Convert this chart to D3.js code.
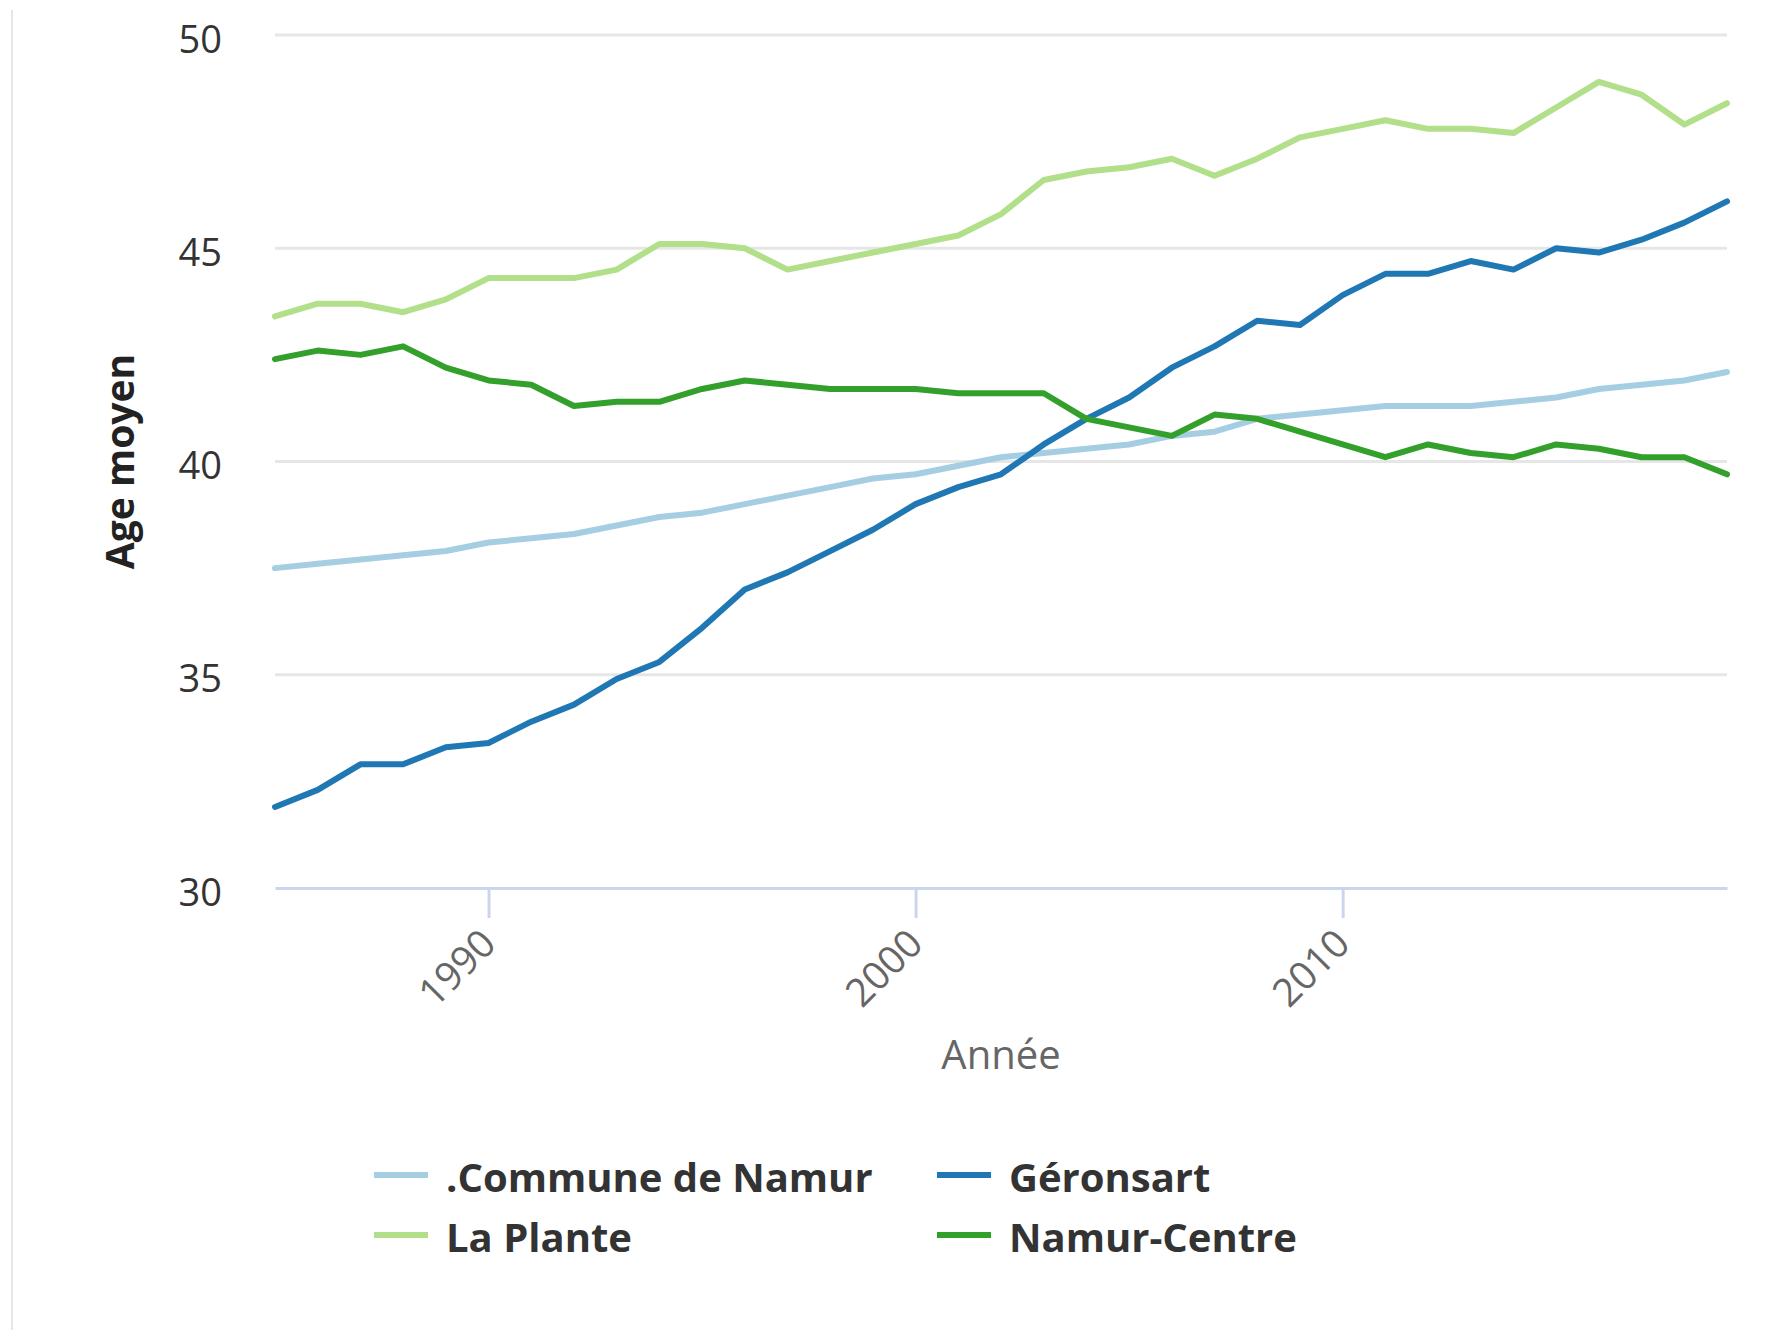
<!DOCTYPE html>
<html>
<head>
<meta charset="utf-8">
<script src="https://cdn.jsdelivr.net/npm/d3@7"></script>
<style>
  body { margin: 0; background: #fff; }
  svg { display: block; font-family: "Open Sans", sans-serif; }
</style>
</head>
<body>
<div id="chart"></div>
<script>
var years = d3.range(1985, 2020);

var commune = [37.5, 37.6, 37.7, 37.8, 37.9, 38.1, 38.2, 38.3, 38.5, 38.7, 38.8, 39.0, 39.2, 39.4, 39.6,
    39.7, 39.9, 40.1, 40.2, 40.3, 40.4, 40.6, 40.7, 41.0, 41.1, 41.2, 41.3, 41.3, 41.3, 41.4, 41.5, 41.7, 41.8, 41.9, 42.1];
var geronsart = [31.9, 32.3, 32.9, 32.9, 33.3, 33.4, 33.9, 34.3, 34.9, 35.3, 36.1, 37.0, 37.4, 37.9, 38.4,
    39.0, 39.4, 39.7, 40.4, 41.0, 41.5, 42.2, 42.7, 43.3, 43.2, 43.9, 44.4, 44.4, 44.7, 44.5, 45.0, 44.9, 45.2, 45.6, 46.1];
var laPlante = [43.4, 43.7, 43.7, 43.5, 43.8, 44.3, 44.3, 44.3, 44.5, 45.1, 45.1, 45.0, 44.5, 44.7, 44.9,
    45.1, 45.3, 45.8, 46.6, 46.8, 46.9, 47.1, 46.7, 47.1, 47.6, 47.8, 48.0, 47.8, 47.8, 47.7, 48.3, 48.9, 48.6, 47.9, 48.4];
var namurCentre = [42.4, 42.6, 42.5, 42.7, 42.2, 41.9, 41.8, 41.3, 41.4, 41.4, 41.7, 41.9, 41.8, 41.7, 41.7,
    41.7, 41.6, 41.6, 41.6, 41.0, 40.8, 40.6, 41.1, 41.0, 40.7, 40.4, 40.1, 40.4, 40.2, 40.1, 40.4, 40.3, 40.1, 40.1, 39.7];

var seriesNames = [".Commune de Namur", "Géronsart", "La Plante", "Namur-Centre"];
var seriesColors = ["#a6cee3", "#1f78b4", "#b2df8a", "#33a02c"];
var yTicks = [30, 35, 40, 45, 50];
var xTicks = [1990, 2000, 2010];

var series = [commune, geronsart, laPlante, namurCentre].map(function(vals, i) {
    return { name: seriesNames[i], color: seriesColors[i], values: vals };
});

var W = 1780, H = 1333;
var mLeft = 275, mRight = 1727, mTop = 35, mBottom = 888;

var svg = d3.select("#chart").append("svg")
    .attr("width", W)
    .attr("height", H);

// cadre gauche
svg.append("line")
    .attr("x1", 12).attr("x2", 12)
    .attr("y1", 10).attr("y2", 1330)
    .attr("stroke", "#e6e6e6")
    .attr("stroke-width", 2);

var x = d3.scaleLinear().domain([1985, 2019]).range([mLeft, mRight]);
var y = d3.scaleLinear().domain([30, 50]).range([mBottom, mTop]);

// grille
svg.append("g")
    .selectAll("line")
    .data(yTicks.slice(1))
    .enter().append("line")
    .attr("x1", mLeft).attr("x2", mRight)
    .attr("y1", function(d) { return y(d); })
    .attr("y2", function(d) { return y(d); })
    .attr("stroke", "#e6e6e6")
    .attr("stroke-width", 3);

// axe Y (labels seulement)
var yAxis = svg.append("g")
    .attr("transform", "translate(" + mLeft + ",0)")
    .call(d3.axisLeft(y).tickValues(yTicks).tickSize(0).tickPadding(53));
yAxis.select(".domain").remove();
yAxis.selectAll("text")
    .attr("font-size", 38)
    .attr("font-family", "Open Sans")
    .attr("fill", "#333")
    .attr("dy", "0.45em");

// axe X
var xAxis = svg.append("g")
    .attr("transform", "translate(0," + mBottom + ")")
    .call(d3.axisBottom(x).tickValues(xTicks).tickSize(30).tickSizeOuter(0).tickFormat(d3.format("d")));
xAxis.select(".domain")
    .attr("stroke", "#ccd6eb")
    .attr("stroke-width", 3);
xAxis.selectAll(".tick line")
    .attr("stroke", "#ccd6eb")
    .attr("stroke-width", 3);
xAxis.selectAll(".tick text")
    .attr("font-size", 39)
    .attr("font-family", "Open Sans")
    .attr("fill", "#666")
    .attr("text-anchor", "end")
    .attr("x", 0).attr("y", 0).attr("dy", 0)
    .attr("transform", "translate(9,58) rotate(-45)");

// titres des axes
svg.append("text")
    .attr("transform", "translate(134," + ((mTop + mBottom) / 2) + ") rotate(-90)")
    .attr("text-anchor", "middle")
    .attr("font-size", 39)
    .attr("font-weight", "bold")
    .attr("fill", "#222")
    .text("Age moyen");

svg.append("text")
    .attr("x", (mLeft + mRight) / 2)
    .attr("y", 1069)
    .attr("text-anchor", "middle")
    .attr("font-size", 40)
    .attr("fill", "#666")
    .text("Année");

// courbes
var line = d3.line()
    .x(function(d, i) { return x(years[i]); })
    .y(function(d) { return y(d); });

svg.append("g")
    .selectAll("path")
    .data(series)
    .enter().append("path")
    .attr("d", function(s) { return line(s.values); })
    .attr("fill", "none")
    .attr("stroke", function(s) { return s.color; })
    .attr("stroke-width", 6)
    .attr("stroke-linejoin", "round")
    .attr("stroke-linecap", "round");

// légende
var legend = svg.append("g")
    .selectAll("g")
    .data(series)
    .enter().append("g")
    .attr("transform", function(s, i) {
        return "translate(" + (i % 2 == 0 ? 374 : 937) + "," + (1175 + Math.floor(i / 2) * 60) + ")";
    });
legend.append("line")
    .attr("x1", 0).attr("x2", 54)
    .attr("y1", 0).attr("y2", 0)
    .attr("stroke", function(s) { return s.color; })
    .attr("stroke-width", 6);
legend.append("text")
    .attr("x", 72)
    .attr("y", 17)
    .attr("font-size", 40)
    .attr("font-weight", "bold")
    .attr("fill", "#333")
    .text(function(s) { return s.name; });
</script>
</body>
</html>
